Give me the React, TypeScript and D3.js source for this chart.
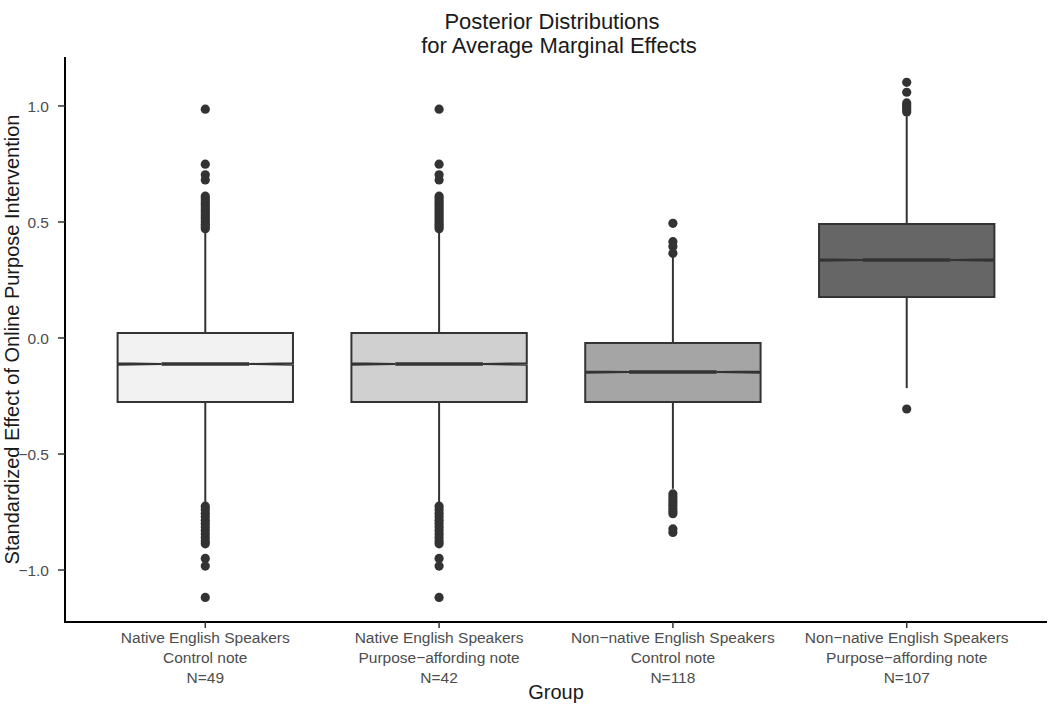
import React from "react";
import * as d3 from "d3";

// ---------- data ----------
const groupLabels: string[][] = [
  ["Native English Speakers", "Control note", "N=49"],
  ["Native English Speakers", "Purpose\u2212affording note", "N=42"],
  ["Non\u2212native English Speakers", "Control note", "N=118"],
  ["Non\u2212native English Speakers", "Purpose\u2212affording note", "N=107"],
];
const groupIds = ["g1", "g2", "g3", "g4"];
const q1Values = [-0.276, -0.276, -0.276, 0.177];
const medianValues = [-0.112, -0.112, -0.147, 0.336];
const q3Values = [0.021, 0.021, -0.022, 0.491];
const whiskerLow = [-0.707, -0.707, -0.65, -0.216];
const whiskerHigh = [0.462, 0.462, 0.358, 0.956];
const posteriorDraws = 20000;
const fillColors = ["#f2f2f2", "#d0d0d0", "#a5a5a5", "#666666"];

const outliersG1 = [
  0.986, 0.749, 0.703, 0.681, 0.611, 0.6, 0.59, 0.58, 0.57, 0.56, 0.55, 0.54, 0.53, 0.52, 0.51, 0.5, 0.49,
  0.48, 0.471, -0.725, -0.74, -0.755, -0.77, -0.785, -0.8, -0.815, -0.83, -0.845, -0.86, -0.875, -0.887,
  -0.95, -0.983, -1.118,
];
const outliersG2 = [
  0.986, 0.749, 0.703, 0.681, 0.611, 0.6, 0.59, 0.58, 0.57, 0.56, 0.55, 0.54, 0.53, 0.52, 0.51, 0.5, 0.49,
  0.48, 0.471, -0.725, -0.74, -0.755, -0.77, -0.785, -0.8, -0.815, -0.83, -0.845, -0.86, -0.875, -0.887,
  -0.95, -0.983, -1.118,
];
const outliersG3 = [
  0.494, 0.415, 0.394, 0.365, -0.672, -0.685, -0.698, -0.71, -0.722, -0.735, -0.747, -0.757, -0.823, -0.838,
];
const outliersG4 = [1.102, 1.059, 1.013, 1.003, 0.993, 0.984, 0.974, -0.306];
const outlierSets = [outliersG1, outliersG2, outliersG3, outliersG4];

const yTicks = [-1.0, -0.5, 0.0, 0.5, 1.0];

// ---------- layout ----------
const W = 1050;
const H = 705;
const panel = { left: 65, right: 1047, top: 57, bottom: 622 };

export default function App() {
  const y = d3.scaleLinear().domain([-1.224, 1.211]).range([panel.bottom, panel.top]);
  const x = d3.scalePoint<string>().domain(groupIds).range([panel.left, panel.right]).padding(0.6);
  const step = x.step();
  const boxW = step * 0.75;
  const stroke = "#333333";
  const font = "'Liberation Sans', Arial, Helvetica, sans-serif";

  const boxes = groupIds.map((id, i) => {
    const cx = x(id) as number;
    const xmin = cx - boxW / 2;
    const xmax = cx + boxW / 2;
    const iqr = q3Values[i] - q1Values[i];
    const notchHalf = (1.58 * iqr) / Math.sqrt(posteriorDraws);
    const nu = medianValues[i] + notchHalf;
    const nl = medianValues[i] - notchHalf;
    const indent = (boxW * 0.5) / 2;
    const pts: [number, number][] = [
      [xmin, y(q3Values[i])],
      [xmin, y(nu)],
      [xmin + indent, y(medianValues[i])],
      [xmin, y(nl)],
      [xmin, y(q1Values[i])],
      [xmax, y(q1Values[i])],
      [xmax, y(nl)],
      [xmax - indent, y(medianValues[i])],
      [xmax, y(nu)],
      [xmax, y(q3Values[i])],
    ];
    const path = d3.line()(pts) + "Z";
    return { cx, xmin, xmax, indent, path };
  });

  const midX = (panel.left + panel.right) / 2;

  return (
    <svg
      width={W}
      height={H}
      style={{ position: "absolute", left: 0, top: 0, display: "block", background: "#ffffff" }}
      fontFamily={font}
    >
      <rect x={0} y={0} width={W} height={H} fill="#ffffff" />
      {/* title */}
      <text x={midX - 4} y={29} textAnchor="middle" fontSize={22} fill="#1a1a1a">
        Posterior Distributions
      </text>
      <text x={midX + 3} y={53} textAnchor="middle" fontSize={22} fill="#1a1a1a">
        for Average Marginal Effects
      </text>

      {/* boxes */}
      {boxes.map((b, i) => (
        <g key={groupIds[i]}>
          {outlierSets[i].map((v, j) => (
            <circle key={j} cx={b.cx} cy={y(v)} r={4.6} fill={stroke} />
          ))}
          <line x1={b.cx} x2={b.cx} y1={y(q3Values[i])} y2={y(whiskerHigh[i])} stroke={stroke} strokeWidth={2} />
          <line x1={b.cx} x2={b.cx} y1={y(q1Values[i])} y2={y(whiskerLow[i])} stroke={stroke} strokeWidth={2} />
          <path d={b.path} fill={fillColors[i]} stroke={stroke} strokeWidth={2} strokeLinejoin="miter" />
          <line
            x1={b.xmin + b.indent}
            x2={b.xmax - b.indent}
            y1={y(medianValues[i])}
            y2={y(medianValues[i])}
            stroke={stroke}
            strokeWidth={3.5}
          />
        </g>
      ))}

      {/* axes */}
      <line x1={panel.left} x2={panel.left} y1={panel.top} y2={panel.bottom + 1} stroke="#000" strokeWidth={2} />
      <line x1={panel.left - 1} x2={panel.right} y1={panel.bottom} y2={panel.bottom} stroke="#000" strokeWidth={2} />
      {yTicks.map((t) => (
        <g key={t}>
          <line x1={panel.left - 7} x2={panel.left} y1={y(t)} y2={y(t)} stroke="#333" strokeWidth={1.5} />
          <text x={panel.left - 16} y={y(t)} dy="0.36em" textAnchor="end" fontSize={15.5} fill="#4d4d4d">
            {d3.format(".1f")(t).replace("-", "\u2212")}
          </text>
        </g>
      ))}
      {groupIds.map((id, i) => {
        const cx = x(id) as number;
        return (
          <g key={id}>
            <line x1={cx} x2={cx} y1={panel.bottom} y2={panel.bottom + 6} stroke="#333" strokeWidth={1.5} />
            {groupLabels[i].map((ln, k) => (
              <text key={k} x={cx} y={643 + k * 20} textAnchor="middle" fontSize={15.5} fill="#4d4d4d">
                {ln}
              </text>
            ))}
          </g>
        );
      })}
      <text x={midX} y={699} textAnchor="middle" fontSize={20} fill="#1a1a1a">
        Group
      </text>
      <text
        transform={`translate(19,${(panel.top + panel.bottom) / 2}) rotate(-90)`}
        textAnchor="middle"
        fontSize={20}
        fill="#1a1a1a"
      >
        Standardized Effect of Online Purpose Intervention
      </text>
    </svg>
  );
}
